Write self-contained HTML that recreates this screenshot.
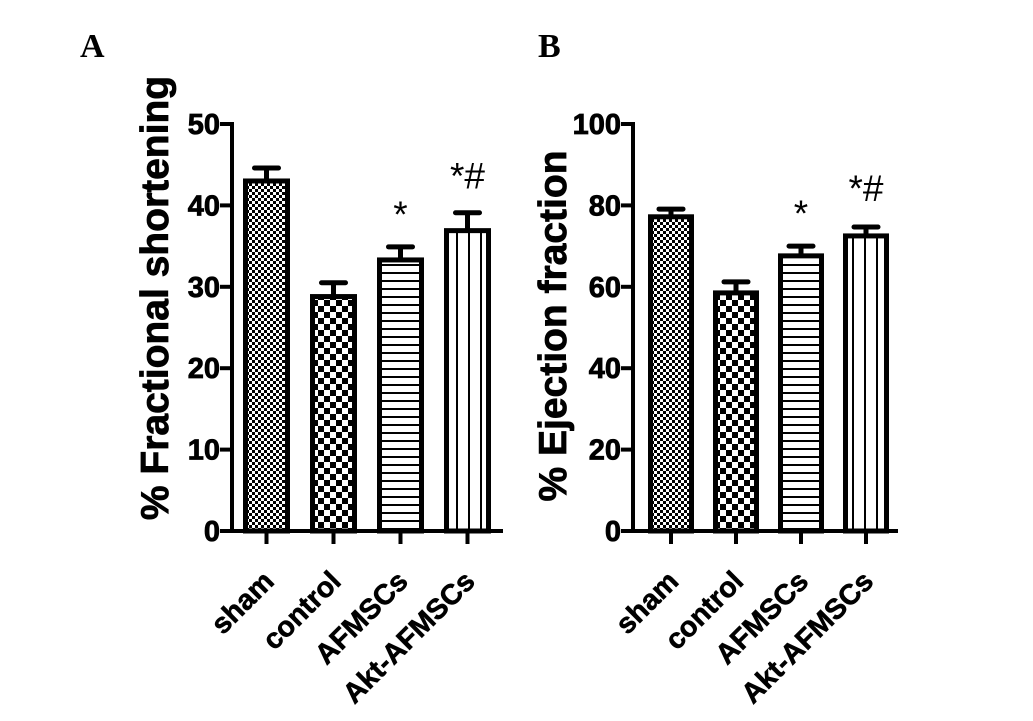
<!DOCTYPE html>
<html><head><meta charset="utf-8"><style>
body{margin:0;background:#fff}
svg{display:block}
text{font-family:"Liberation Sans",Arial,sans-serif;font-weight:bold;fill:#000}
</style></head><body>
<svg id="chart" width="1033" height="721" viewBox="0 0 1033 721" xmlns="http://www.w3.org/2000/svg">
<defs>
<pattern id="pSham" width="6" height="6" patternUnits="userSpaceOnUse"><rect width="6" height="6" fill="#fff"/><rect width="3" height="3" fill="#000"/><rect x="3" y="3" width="3" height="3" fill="#000"/></pattern>
<pattern id="pCtrl" width="12" height="12" patternUnits="userSpaceOnUse"><rect width="12" height="12" fill="#fff"/><rect width="6" height="6" fill="#000"/><rect x="6" y="6" width="6" height="6" fill="#000"/></pattern>
<pattern id="pHoriz" width="8" height="8" patternUnits="userSpaceOnUse"><rect width="8" height="8" fill="#fff"/><rect y="0" width="8" height="2" fill="#000"/></pattern>
<pattern id="pVert" width="12" height="12" patternUnits="userSpaceOnUse"><rect width="12" height="12" fill="#fff"/><rect x="0" width="2" height="12" fill="#000"/></pattern>
</defs>
<text x="80" y="57" style="font-family:'Liberation Serif',serif;font-size:34px">A</text>
<text x="538" y="57" style="font-family:'Liberation Serif',serif;font-size:34px">B</text>
</svg>
<script>
const categories = ["sham","control","AFMSCs","Akt-AFMSCs"];
const fsValues = [43.0, 28.8, 33.3, 36.9];
const fsErrors = [1.6, 1.7, 1.6, 2.2];
const efValues = [77.2, 58.5, 67.6, 72.5];
const efErrors = [1.9, 2.7, 2.4, 2.2];
const fsTicks = [0,10,20,30,40,50];
const efTicks = [0,20,40,60,80,100];
const annotations = ["", "", "*", "*#"];

const svg = document.getElementById('chart');
const NS = 'http://www.w3.org/2000/svg';
const fills = ['url(#pSham)','url(#pCtrl)','url(#pHoriz)','url(#pVert)'];
function mk(tag, attrs, parent){const e=document.createElementNS(NS,tag);for(const k in attrs)e.setAttribute(k,attrs[k]);(parent||svg).appendChild(e);return e;}

function panel(p){
  const g = mk('g',{});
  
  
  const y = v => p.y0 - (v/p.max)*(p.y0-p.y1);
  const x = i => p.bx0 + i*p.step;
  const ax = mk('line',{x1:p.ax,y1:p.y1-2,x2:p.ax,y2:p.y0+2,stroke:'#000','stroke-width':4},g);
  
  
  const xa = mk('line',{x1:p.ax-12,y1:p.y0,x2:p.axEnd,y2:p.y0,stroke:'#000','stroke-width':4},g);
  
  
  p.ticks.forEach(t=>{
    mk('line',{x1:p.ax-12,y1:y(t),x2:p.ax,y2:y(t),stroke:'#000','stroke-width':4},g);
    const tl = mk('text',{x:p.ax-12,y:y(t)+10,'text-anchor':'end','font-size':29,'stroke':'#000','stroke-width':0.8},g);
    tl.textContent = t;
    
    
  });
  const tt = mk('text',{x:0,y:0,'text-anchor':'middle','font-size':p.titleSize,'stroke':'#000','stroke-width':0.8,transform:`translate(${p.titleX},${p.titleY}) rotate(-90)`},g);
  tt.textContent = p.title;
  
  
  categories.forEach((c,i)=>{
    const cx = x(i)+p.bw/2;
    const top = y(p.vals[i]), et = y(p.vals[i]+p.errs[i]);
    const el = mk('line',{x1:cx,y1:et,x2:cx,y2:top,stroke:'#000','stroke-width':5},g);
    
    
    mk('line',{x1:cx-12,y1:et,x2:cx+12,y2:et,stroke:'#000','stroke-width':5,'stroke-linecap':'round'},g);
    const r = mk('rect',{x:x(i)+2.5,y:top,width:p.bw-5,height:p.y0-top,fill:fills[i],stroke:'#000','stroke-width':5},g);
    
    
    mk('line',{x1:cx,y1:p.y0,x2:cx,y2:p.y0+13,stroke:'#000','stroke-width':4},g);
    const lb = mk('text',{x:0,y:0,'text-anchor':'end','font-size':28.5,'stroke':'#000','stroke-width':0.6,transform:`translate(${cx+9},${p.y0+52}) rotate(-45)`},g);
    lb.textContent = c;
    
    
    if(annotations[i]){
      const an = mk('text',{x:cx,y:et-(annotations[i].length>1?p.annHi:20),'text-anchor':'middle','font-size':37,style:'font-weight:normal'},g);
      an.textContent = annotations[i];
      
      
    }
  });
}
panel({name:'panel-a-fractional-shortening',vals:fsValues,errs:fsErrors,ticks:fsTicks,max:50,y0:531,y1:124,ax:232,axEnd:503,bx0:243,step:67,bw:47,title:'% Fractional shortening',titleX:168,titleY:298,titleSize:39,annHi:24});
panel({name:'panel-b-ejection-fraction',vals:efValues,errs:efErrors,ticks:efTicks,max:100,y0:531,y1:124,ax:633,axEnd:898,bx0:648,step:65,bw:46,title:'% Ejection fraction',titleX:566,titleY:326,titleSize:39,annHi:26});
</script>
</body></html>
